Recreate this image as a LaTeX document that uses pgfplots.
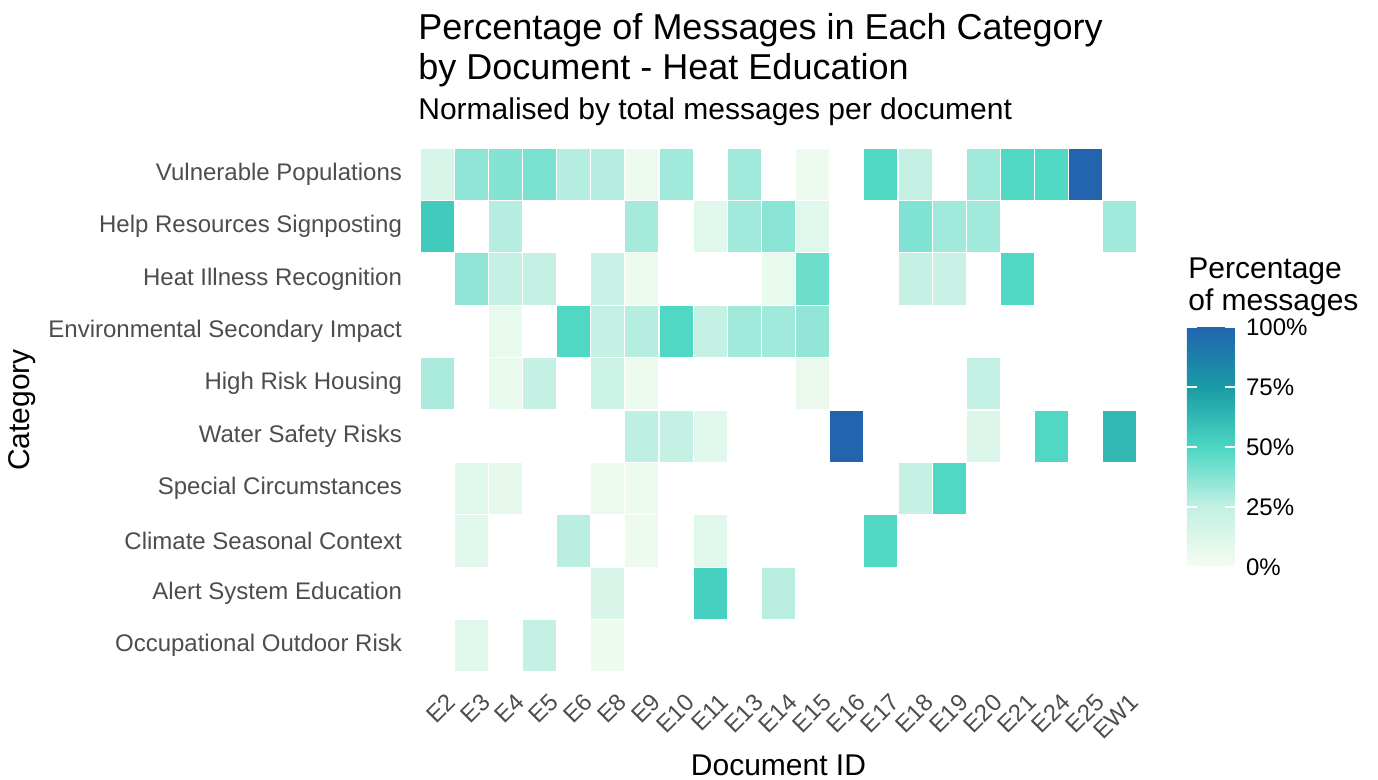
\documentclass[border=0pt]{standalone}
\usepackage{pgfplots}
\pgfplotsset{compat=1.18}
\usepackage{pgfplotstable}
\usepackage{fontspec}
\setmainfont{Liberation Sans}
\definecolor{axtext}{RGB}{77,77,77}

\pgfdeclareplotmark{cell}{%
  \pgfpathrectangle{\pgfpoint{-8.536pt}{-13.1pt}}{\pgfpoint{17.071pt}{26.2pt}}%
  \pgfusepathqfillstroke}

% x: 0=E2 1=E3 2=E4 3=E5 4=E6 5=E8 6=E9 7=E10 8=E11 9=E13 10=E14 11=E15
%    12=E16 13=E17 14=E18 15=E19 16=E20 17=E21 18=E24 19=E25 20=EW1
% y: 10=Vulnerable ... 1=Occupational
\pgfplotstableread{
x y v
0 10 15
1 10 36
2 10 38
3 10 40
4 10 28
5 10 28
6 10 5
7 10 32
9 10 32
11 10 5
13 10 49
14 10 24
16 10 32
17 10 49
18 10 49
19 10 100
0 9 55
2 9 28
6 9 31
8 9 11
9 9 32
10 9 37
11 9 11
14 9 39
15 9 32
16 9 32
20 9 32
1 8 36
2 8 24
3 8 24
5 8 22
6 8 5
10 8 7
11 8 43
14 8 24
15 8 22
17 8 49
2 7 7
4 7 49
5 7 24
6 7 28
7 7 49
8 7 24
9 7 32
10 7 32
11 7 35
0 6 30
2 6 7
3 6 24
5 6 20
6 6 5
11 6 6
16 6 25
6 5 26
7 5 24
8 5 11
12 5 100
16 5 13
18 5 49
20 5 63
1 4 11
2 4 8
5 4 5
6 4 5
14 4 24
15 4 49
1 3 11
4 3 27
6 3 5
8 3 11
13 3 49
5 2 15
8 2 53
10 2 27
1 1 11
3 1 24
5 1 5
}\cells

\begin{document}
\begin{tikzpicture}
\useasboundingbox (-210pt,-54pt) rectangle (479pt,336pt);
\begin{axis}[
  at={(0,0)}, anchor=south west,
  scale only axis, width=358.5pt, height=262pt,
  xmin=-0.5, xmax=20.5, ymin=0.5, ymax=10.5,
  axis line style={draw=none},
  major tick length=0pt,
  tick style={draw=none},
  xtick={0,...,20},
  xticklabels={E2,E3,E4,E5,E6,E8,E9,E10,E11,E13,E14,E15,E16,E17,E18,E19,E20,E21,E24,E25,EW1},
  ytick={1,...,10},
  yticklabels={Occupational Outdoor Risk,Alert System Education,Climate Seasonal Context,Special Circumstances,Water Safety Risks,High Risk Housing,Environmental Secondary Impact,Heat Illness Recognition,Help Resources Signposting,Vulnerable Populations},
  xticklabel style={rotate=45, anchor=north east, font=\fontsize{12}{14}\selectfont, text=axtext, inner sep=1pt, yshift=-9pt, xshift=-3pt},
  yticklabel style={font=\fontsize{12}{14}\selectfont, text=axtext, xshift=-5.5pt},
  xlabel={Document ID},
  ylabel={Category},
  xlabel style={font=\fontsize{15}{17}\selectfont, at={(axis description cs:0.5,-0.197)}, anchor=base},
  ylabel style={font=\fontsize{15}{17}\selectfont, at={(axis description cs:-0.555,0.5)}, anchor=center},
  colormap={heat}{rgb255=(247,252,240) rgb255=(195,240,228) rgb255=(75,215,195) rgb255=(25,155,165) rgb255=(35,100,175)},
  point meta=explicit,
  point meta min=0, point meta max=100,
  colorbar,
  colorbar/width=24pt,
  colorbar shift/.style={xshift=25pt, yshift=-89.5pt},
  colorbar style={
    at={(parent axis.north east)}, anchor=north west,
    scale only axis, height=120pt,
    axis line style={draw=none},
    ytick={0,25,50,75,100},
    yticklabels={0\%,25\%,50\%,75\%,100\%},
    yticklabel style={font=\fontsize{12}{14}\selectfont, text=black, xshift=2pt},
    tick pos=both, ytick pos=both, yticklabel pos=right,
    tick align=inside, major tick length=5pt,
    ytick style={draw=white, line width=0.7pt},
    title={Percentage\\of messages},
    title style={font=\fontsize{15}{16}\selectfont, align=left, anchor=south west, at={(0,1)}, inner sep=0pt, xshift=0.5pt, yshift=-1pt},
  },
]
\addplot[scatter, only marks, mark=cell, line width=0.6pt,
  scatter/use mapped color={draw=white, fill=mapped color}]
  table[x=x, y=y, meta=v] {\cells};
\end{axis}
\node[anchor=base west, inner sep=0pt, font=\fontsize{18}{20}\selectfont] at (-1pt,316pt) {Percentage of Messages in Each Category};
\node[anchor=base west, inner sep=0pt, font=\fontsize{18}{20}\selectfont] at (-1pt,296pt) {by Document - Heat Education};
\node[anchor=base west, inner sep=0pt, font=\fontsize{15}{17}\selectfont] at (-1pt,276pt) {Normalised by total messages per document};
\end{tikzpicture}
\end{document}
